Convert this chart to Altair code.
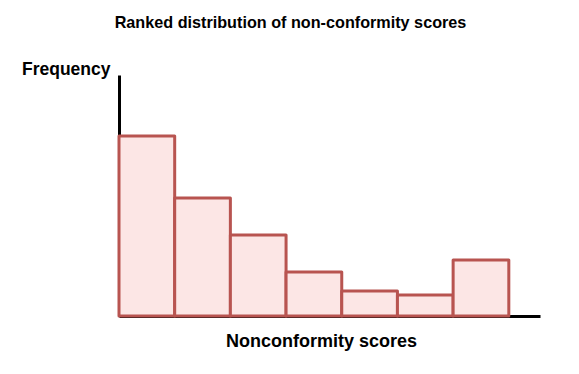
import altair as alt
import pandas as pd

ranks = [1, 2, 3, 4, 5, 6, 7]
frequency = [180, 118, 81, 44, 25, 21, 56]

df = pd.DataFrame({
    "start": [r - 1 for r in ranks],
    "end": ranks,
    "freq": frequency,
})

FONT = "Liberation Sans"

bars = alt.Chart(df).mark_bar(
    fill="#fce6e5",
    stroke="#b85450",
    strokeWidth=3,
    strokeJoin="round",
).encode(
    x=alt.X("start:Q", scale=alt.Scale(domain=[0, 7.56], nice=False, zero=False),
            axis=alt.Axis(title="Nonconformity scores", labels=False, ticks=False, grid=False,
                          domainColor="black", domainWidth=3,
                          titleX=202, titleY=30, titleAlign="center", titleBaseline="alphabetic",
                          titleFont=FONT, titleFontSize=18, titleFontWeight="bold", titleColor="black")),
    x2="end:Q",
    y=alt.Y("freq:Q", scale=alt.Scale(domain=[0, 241], nice=False),
            axis=alt.Axis(title="Frequency", labels=False, ticks=False, grid=False,
                          domainColor="black", domainWidth=3,
                          titleAngle=0, titleX=-9, titleY=-1, titleAlign="right",
                          titleBaseline="alphabetic",
                          titleFont=FONT, titleFontSize=17.5, titleFontWeight="bold", titleColor="black")),
    y2=alt.datum(0),
)

chart = bars.properties(
    width=421,
    height=241,
    autosize=alt.AutoSizeParams(type="none"),
    padding={"left": 111, "top": 67, "right": 20, "bottom": 40},
    title=alt.TitleParams(
        "Ranked distribution of non-conformity scores",
        anchor="middle", frame="group", dx=-39, offset=16,
        baseline="alphabetic",
        font=FONT, fontSize=16.2, fontWeight="bold", color="black",
    ),
).configure_view(stroke=None)

chart.save("out.html", embed_options={"renderer": "svg", "actions": False})
